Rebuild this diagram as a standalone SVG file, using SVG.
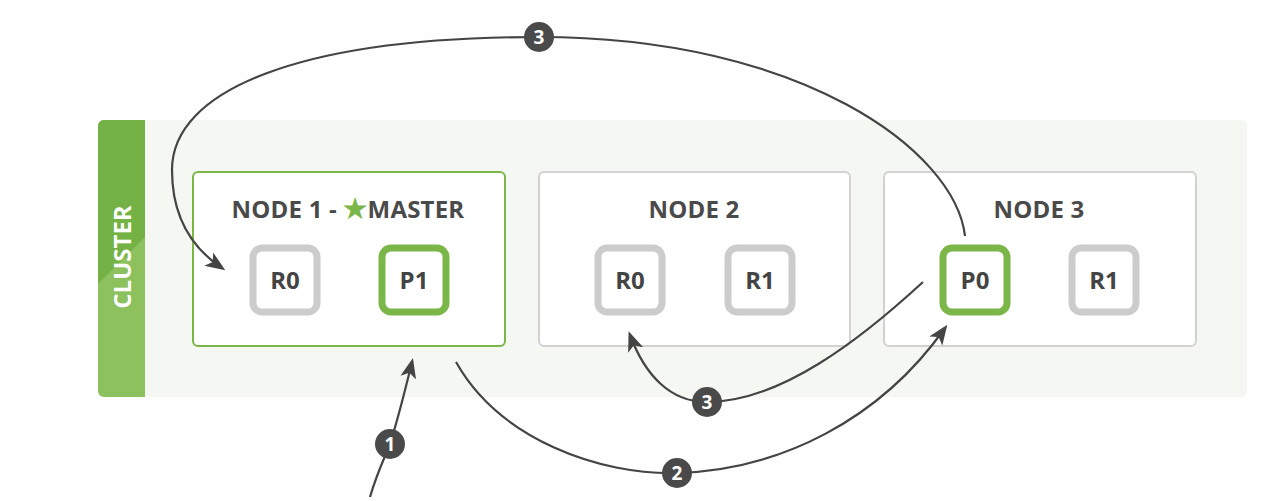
<svg xmlns="http://www.w3.org/2000/svg" width="1283" height="501" viewBox="0 0 1283 501">
<style>
.title{font-family:"Open Sans","Liberation Sans",sans-serif;font-weight:700;font-size:24px;fill:#4a4a4a;text-anchor:middle;letter-spacing:0.2px}
.shard-t{font-family:"Open Sans","Liberation Sans",sans-serif;font-weight:700;font-size:24px;fill:#444;text-anchor:middle}
.rep{fill:#fff;stroke:#cccccc;stroke-width:7}
.pri{fill:#fff;stroke:#7ab648;stroke-width:7}
.node{fill:#fff;stroke:#d2d2d2;stroke-width:2}
.master{fill:#fff;stroke:#7ab648;stroke-width:2}
.conn{fill:none;stroke:#444;stroke-width:2.2}
.badge{fill:#4a4a4a}
.badge-t{font-family:"Open Sans","Liberation Sans",sans-serif;font-weight:700;font-size:19px;fill:#fff;text-anchor:middle}
</style>
<defs>
<marker id="arr" viewBox="0 0 20 16" refX="16" refY="8" markerWidth="20" markerHeight="16" markerUnits="userSpaceOnUse" orient="auto">
<path d="M0,0 L20,8 L0,16 L5,8 z" fill="#444"/>
</marker>
</defs>
<rect x="0" y="0" width="1283" height="501" fill="#fefefe"/>
<g id="cluster">
<rect x="98" y="120" width="1149" height="277" rx="6" fill="#f5f8f2"/>
<path d="M104,120 H145 V397 H104 A6,6 0 0 1 98,391 V126 A6,6 0 0 1 104,120 z" fill="#8cc15e"/>
<path d="M104,120 H145 V237 L98,284 V126 A6,6 0 0 1 104,120 z" fill="#75b245"/>
<text x="0" y="0" transform="translate(131,257) rotate(-90)" font-family="'Open Sans','Liberation Sans',sans-serif" font-weight="700" font-size="24" fill="#fff" text-anchor="middle">CLUSTER</text>
</g>
<g id="node1">
<rect class="master" x="193" y="172" width="312" height="174" rx="5"/>
<text class="title" x="348" y="218">NODE 1 - <tspan fill="#7ab648" font-size="27">★</tspan>MASTER</text>
</g>
<g id="node1-R0">
<rect class="rep" x="253" y="248" width="64" height="64" rx="9"/>
<text class="shard-t" x="285" y="289">R0</text>
</g>
<g id="node1-P1">
<rect class="pri" x="382" y="248" width="64" height="64" rx="9"/>
<text class="shard-t" x="414" y="289">P1</text>
</g>
<g id="node2">
<rect class="node" x="539" y="172" width="311" height="174" rx="5"/>
<text class="title" x="694" y="218">NODE 2</text>
</g>
<g id="node2-R0">
<rect class="rep" x="598" y="248" width="64" height="64" rx="9"/>
<text class="shard-t" x="630" y="289">R0</text>
</g>
<g id="node2-R1">
<rect class="rep" x="728" y="248" width="64" height="64" rx="9"/>
<text class="shard-t" x="760" y="289">R1</text>
</g>
<g id="node3">
<rect class="node" x="884" y="172" width="312" height="174" rx="5"/>
<text class="title" x="1039" y="218">NODE 3</text>
</g>
<g id="node3-P0">
<rect class="pri" x="943" y="248" width="64" height="64" rx="9"/>
<text class="shard-t" x="975" y="289">P0</text>
</g>
<g id="node3-R1">
<rect class="rep" x="1072" y="248" width="64" height="64" rx="9"/>
<text class="shard-t" x="1104" y="289">R1</text>
</g>
<g id="connectors">
<path class="conn" d="M370,497 C378,470 386,455 390,444 C396,425 404,395 412,362" marker-end="url(#arr)"/>
<path class="conn" d="M456,362 C500,440 600,475 677,473 C780,470 880,420 945,328" marker-end="url(#arr)"/>
<path class="conn" d="M923,282 C860,340 780,402 707,402 C670,402 645,375 630,335" marker-end="url(#arr)"/>
<path class="conn" d="M965,236 C955,150 800,37 539,37 C300,37 172,90 172,170 C172,220 195,250 222,268" marker-end="url(#arr)"/>
<circle class="badge" cx="390" cy="444" r="15"/>
<text class="badge-t" x="390" y="451">1</text>
<circle class="badge" cx="677" cy="473" r="15"/>
<text class="badge-t" x="677" y="480">2</text>
<circle class="badge" cx="707" cy="402" r="15"/>
<text class="badge-t" x="707" y="409">3</text>
<circle class="badge" cx="539" cy="37" r="15"/>
<text class="badge-t" x="539" y="44">3</text>
</g>
</svg>
